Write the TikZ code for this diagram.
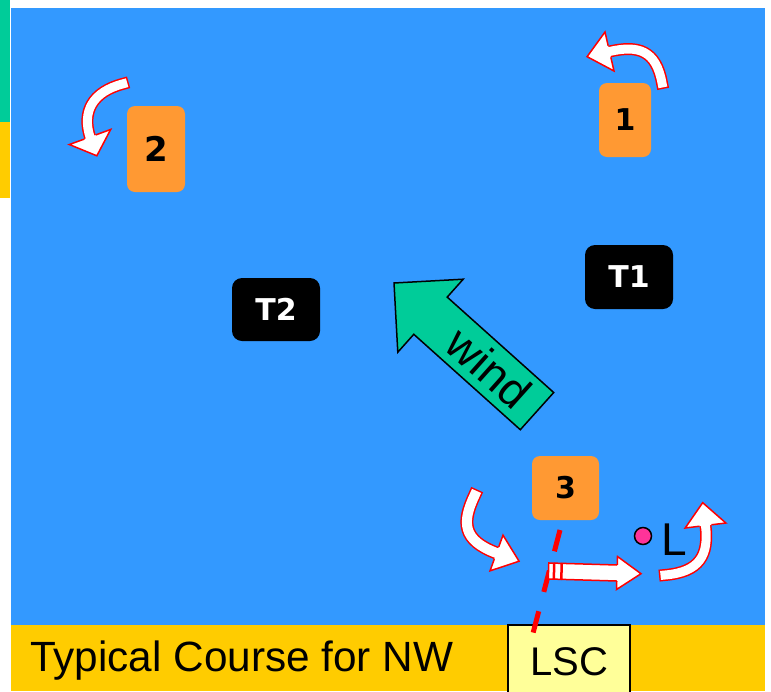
\documentclass[tikz,border=0pt]{standalone}
\usepackage{fontspec}
\setmainfont{Liberation Sans}
\newfontfamily\vfont{DejaVu Sans}
\usetikzlibrary{calc}
\definecolor{skyblue}{HTML}{3399FF}
\definecolor{windteal}{HTML}{00CC99}
\definecolor{bandyellow}{HTML}{FFCC00}
\definecolor{markorange}{HTML}{FF9933}
\definecolor{lscyellow}{HTML}{FFFF99}
\definecolor{dotpink}{HTML}{FF3399}
\tikzset{
  turnoutline/.style={draw=red, line width=1.5pt, line join=miter},
  turnshaft/.style={draw=red, line width=1.5pt, double=white, double distance=#1, line cap=rect},
  markbox/.style={fill=markorange, rounded corners=8pt, inner sep=0pt, font=\vfont\bfseries\fontsize{30}{30}\selectfont},
  tbox/.style={fill=black, text=white, rounded corners=10pt, inner sep=0pt, minimum width=88pt, minimum height=64pt, font=\vfont\bfseries\fontsize{30}{30}\selectfont},
}
\newcommand{\blockhead}[5]{%
  \begin{scope}[shift={#1}, rotate={-1*(#2)}]
    \fill[white] (0,-#4) -- (#3,0) -- (0,#4) -- cycle;
    \draw[turnoutline] (0,#5) -- (0,#4) -- (#3,0) -- (0,-#4) -- (0,-#5);
  \end{scope}}
\begin{document}
\begin{tikzpicture}[x=1pt, y=-1pt]
\useasboundingbox (0,0) rectangle (771,691);
\fill[white] (0,0) rectangle (771,691);
% left strip
\fill[windteal] (0,0) rectangle (10,122);
\fill[bandyellow] (0,122) rectangle (10,198);
% sea and bottom band
\fill[skyblue] (11,8) rectangle (765,625);
\fill[bandyellow] (11,625) rectangle (765,691);
\node[anchor=base west, inner sep=0pt, font=\fontsize{42.3}{42.3}\selectfont] (title) at (30,671) {Typical Course for NW};
% LSC box
\node[draw=black, fill=lscyellow, line width=1.5pt, minimum width=122pt, minimum height=74pt, inner sep=0pt, anchor=north, font=\fontsize{40}{40}\selectfont] (lsc) at (569,624) {LSC};
% marks
\node[markbox, minimum width=58pt, minimum height=86pt, font=\vfont\bfseries\fontsize{34}{34}\selectfont] (m2) at (156,149) {2};
\node[markbox, minimum width=52pt, minimum height=74pt] (m1) at (625,120) {1};
\node[markbox, minimum width=67pt, minimum height=64pt] (m3) at (565.5,488) {3};
\node[tbox] (t1) at (629,277) {T1};
\node[tbox, minimum height=63pt] (t2) at (276,309.5) {T2};
% wind arrow
\draw[fill=windteal, draw=black, line width=1.5pt, line join=miter]
  (394,283) -- (463.2,279.2) -- (447.2,297.1) -- (553.7,392.5) -- (520.3,429.7) -- (413.8,334.3) -- (397.8,352.2) -- cycle;
\node[rotate=-41.8, inner sep=0pt, font=\fontsize{46}{46}\selectfont] (wind) at (489,368) {wind};
% start line
\coordinate (sl1) at (560,530);
\coordinate (sl2) at (532,637);
\draw[red, line width=5pt, dash pattern=on 22pt off 20pt] (sl1) -- (sl2);
% mark L
\node[circle, fill=dotpink, draw=black, line width=1.5pt, minimum size=17pt, inner sep=0pt] (dot) at (643,536) {};
\node[anchor=base west, inner sep=0pt, font=\fontsize{46}{46}\selectfont] (lbl) at (661,555) {L};
% rounding arrow at 2
\coordinate (a2s) at (122.8,83.9);
\coordinate (a2e) at (90,137);
\draw[turnshaft=9pt] (a2s) .. controls (92,92) and (82,112) .. (a2e);
\blockhead{(a2e)}{70}{20}{22}{6}
% rounding arrow at 1
\coordinate (a1s) at (662,83);
\coordinate (a1e) at (609.5,51.5);
\draw[turnshaft=9pt] (a1s) .. controls (656,50) and (638,45) .. (a1e);
\blockhead{(a1e)}{167}{23}{20}{6}
% approach arrow at 3
\coordinate (a3s) at (474.5,495.5);
\coordinate (a3e) at (496.5,553);
\draw[turnshaft=10pt] (a3s) .. controls (462,522) and (462,540) .. (a3e);
\blockhead{(a3e)}{20}{24}{19}{6.5}
% finish arrow
\coordinate (a4s) at (665,575);
\coordinate (a4e) at (705.5,525.5);
\draw[turnshaft=9pt] (a4s) .. controls (700,572) and (709,555) .. (a4e);
\blockhead{(a4e)}{-97}{23}{20.5}{6}
% striped arrow across the line
\coordinate (sa) at (617,573);
\begin{scope}[shift={(sa)}, rotate=-1.7]
  \draw[turnoutline, fill=white] (-68.5,-8) rectangle (-63.5,8);
  \draw[turnoutline, fill=white] (-62.5,-8) rectangle (-56,8);
  \draw[turnoutline, fill=white] (-55,-8) rectangle (2,8);
\end{scope}
\blockhead{(sa)}{1.7}{24}{16.5}{8}
\end{tikzpicture}
\end{document}
